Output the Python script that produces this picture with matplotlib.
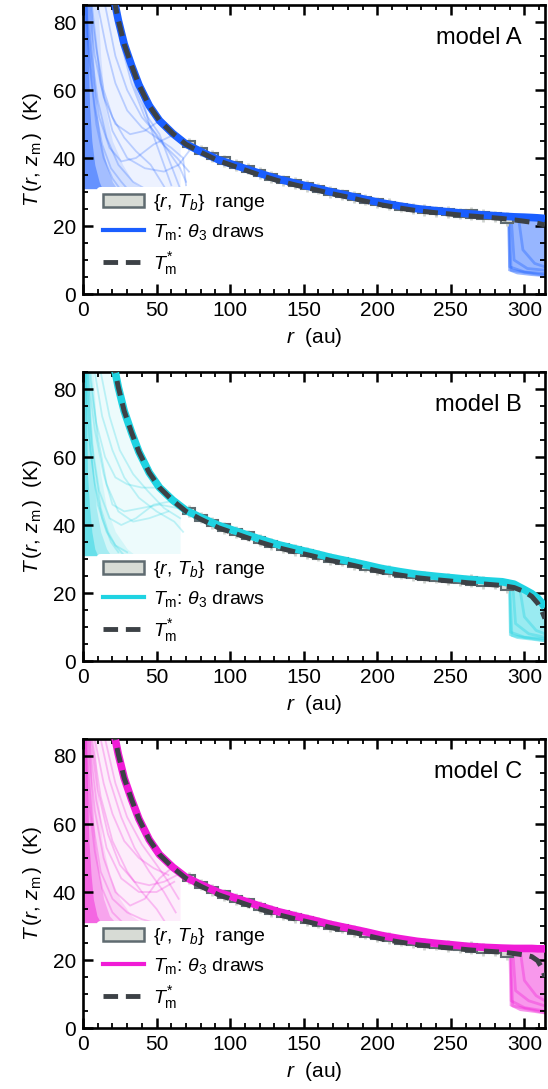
import matplotlib
matplotlib.use("Agg")
import matplotlib.pyplot as plt
from matplotlib.patches import Patch
from matplotlib.lines import Line2D
from matplotlib.ticker import MultipleLocator

plt.rcParams['font.family'] = ['Liberation Sans', 'DejaVu Sans']
plt.rcParams['mathtext.fontset'] = 'custom'
plt.rcParams['mathtext.rm'] = 'Liberation Sans'
plt.rcParams['mathtext.it'] = 'Liberation Sans:italic'
plt.rcParams['mathtext.bf'] = 'Liberation Sans:bold'

# ---------------- data ----------------
models = ["model A", "model B", "model C"]
colors = ["#1a5eff", "#1fd3e2", "#f01bd6"]

r_curve = [20, 24, 28, 33, 38, 45, 52, 61, 70, 80, 92, 108, 120, 132, 145, 156,
           168, 180, 192, 203, 215, 227, 240, 250, 262, 274, 285, 293, 300, 305,
           309, 312, 314]

Tstar_A = [89, 80.5, 73.5, 67.2, 61.5, 55.4, 51.0, 47.2, 44.0, 41.7, 39.2, 36.8,
           35.0, 33.4, 32.0, 30.9, 29.6, 28.5, 27.3, 26.2, 25.3, 24.5, 23.9, 23.5,
           23.0, 22.6, 22.2, 21.8, 21.4, 21.1, 20.8, 20.5, 20.3]
Tstar_B = [89, 80.5, 73.5, 67.2, 61.5, 55.4, 51.0, 47.2, 44.0, 41.7, 39.2, 36.8,
           35.0, 33.4, 32.0, 30.9, 29.6, 28.5, 27.3, 26.2, 25.3, 24.5, 23.9, 23.5,
           23.0, 22.6, 22.2, 21.6, 20.4, 19.0, 17.0, 14.6, 12.5]
Tstar_C = [89, 80.5, 73.5, 67.2, 61.5, 55.4, 51.0, 47.2, 44.0, 41.7, 39.2, 36.8,
           35.0, 33.4, 32.0, 30.9, 29.6, 28.5, 27.3, 26.2, 25.3, 24.5, 23.9, 23.5,
           23.0, 22.6, 22.3, 21.9, 21.5, 21.0, 19.8, 17.6, 15.0]

Tm_A = [89, 80.5, 73.5, 67.2, 61.5, 55.4, 51.0, 47.2, 44.1, 41.9, 39.5, 37.2,
        35.5, 33.9, 32.5, 31.4, 30.1, 29.0, 27.8, 26.8, 25.9, 25.1, 24.5, 24.1,
        23.6, 23.2, 22.9, 22.7, 22.6, 22.5, 22.4, 22.3, 22.2]
Tm_B = [89, 80.5, 73.5, 67.2, 61.5, 55.4, 51.0, 47.3, 44.3, 42.2, 39.9, 37.6,
        35.9, 34.3, 32.9, 31.8, 30.5, 29.4, 28.3, 27.2, 26.3, 25.5, 24.9, 24.5,
        24.0, 23.6, 23.3, 22.6, 21.0, 19.8, 18.5, 17.0, 15.8]
Tm_C = [89, 80.5, 73.5, 67.2, 61.5, 55.4, 51.0, 47.3, 44.3, 42.2, 39.9, 37.6,
        35.9, 34.3, 32.9, 31.8, 30.5, 29.4, 28.3, 27.2, 26.3, 25.5, 24.9, 24.5,
        24.0, 23.7, 23.5, 23.4, 23.4, 23.4, 23.3, 23.3, 23.3]

# {r, T_b} range boxes (same observations in each panel)
rb_center = [72, 80, 88, 96, 104, 112, 120, 128, 136, 144, 152, 160, 168, 176,
             184, 192, 200, 208, 216, 224, 232, 240, 248, 256, 264, 272, 280, 288]
Tb_lo = [43.3, 41.3, 39.7, 38.2, 37.0, 35.9, 34.6, 33.5, 32.6, 31.7, 30.9, 30.1,
         29.2, 28.5, 27.7, 26.9, 26.1, 25.5, 24.8, 24.3, 23.8, 23.5, 23.2, 22.8,
         22.5, 22.2, 22.0, 21.0]
Tb_hi = [45.0, 43.0, 41.5, 40.3, 38.8, 37.8, 36.6, 35.4, 34.4, 33.5, 32.7, 31.9,
         31.0, 30.3, 29.4, 28.6, 27.9, 27.2, 26.5, 26.0, 25.6, 25.2, 25.0, 24.6,
         24.8, 24.0, 23.7, 23.2]
Tb_err = [0.8, 0.7, 0.9, 0.7, 0.9, 0.7, 0.8, 0.9, 0.7, 0.9, 0.8, 0.7, 0.9, 0.7,
          0.9, 0.8, 0.7, 0.9, 0.7, 0.8, 0.9, 0.7, 0.9, 0.7, 0.8, 0.9, 0.7, 0.9]

# inner draws: envelope, density bands near r=0 and individual draws (r, T)
env_r = [0, 20, 24, 28, 33, 38, 45, 52, 61, 66]
env_T = [85, 85, 80.5, 73.5, 67.2, 61.5, 55.4, 51.0, 47.2, 45.5]
fan_floor = 31
band_T = [85, 70, 55, 45, 38, 33, 31]
band_r = {"A": [[3, 3.5, 4.5, 6, 8, 11, 13],
                [6, 7, 9, 12, 16, 20, 23],
                [10, 12, 15, 20, 27, 34, 40]],
          "B": [[2, 2.5, 3, 4.5, 6, 8, 10],
                [4, 5, 7, 9, 12, 16, 19],
                [7, 9, 12, 16, 22, 30, 36]],
          "C": [[2.5, 3, 4, 5.5, 7, 9.5, 12],
                [5, 6, 8, 11, 14, 18, 22],
                [8, 10, 13, 18, 25, 33, 40]]}

fan = {
    "A": [([1, 4, 8, 13, 19, 26, 30], [85, 70, 55, 44, 37, 33, 31]),
          ([3, 6, 10, 16, 24, 34, 42], [85, 70, 57, 46, 38, 33, 31]),
          ([5, 9, 14, 20, 28, 36, 46, 56], [85, 72, 60, 52, 46, 42, 38, 31]),
          ([2, 6, 11, 18, 26, 36, 48, 60], [85, 66, 52, 43, 39, 40, 44, 46.5]),
          ([4, 8, 14, 22, 32, 42, 52], [85, 70, 58, 50, 47, 48, 51]),
          ([10, 16, 22, 30, 40, 50, 60, 68, 70], [85, 72, 62, 54, 49, 46, 43, 40, 32]),
          ([15, 22, 30, 40, 50, 58, 66, 70], [85, 70, 60, 52, 47, 42, 37, 33]),
          ([6, 12, 20, 30, 42, 55, 65, 72], [85, 62, 48, 40, 37, 36, 38, 42]),
          ([40, 45, 50, 55, 60], [58, 50, 44, 38, 32]),
          ([25, 33, 42, 52, 64, 72], [75, 62, 52, 45, 40, 36]),
          ([2, 5, 9, 14, 20, 25], [85, 65, 50, 40, 34, 31]),
          ([30, 36, 44, 52, 58, 66], [70, 60, 52, 47, 40, 31])],
    "B": [([1, 4, 8, 13, 19, 24], [85, 66, 52, 42, 35, 32]),
          ([2, 6, 11, 18, 26, 36, 48, 60], [85, 64, 50, 42, 40, 42, 46, 47]),
          ([3, 8, 14, 20, 28, 40, 52, 64], [85, 68, 55, 46, 44, 45, 46, 45]),
          ([4, 9, 15, 22, 30, 40, 50], [85, 70, 60, 54, 52, 51, 51]),
          ([8, 13, 20, 28, 38, 50, 62, 68], [85, 72, 62, 54, 48, 44, 41, 38]),
          ([2, 5, 10, 16, 22, 30], [85, 62, 46, 38, 34, 32]),
          ([12, 18, 25, 34, 44, 55, 66], [85, 72, 62, 55, 50, 45, 42]),
          ([5, 10, 16, 24, 34, 45, 58], [85, 66, 52, 44, 41, 42, 44]),
          ([3, 7, 12, 17, 22, 28], [85, 60, 45, 38, 34, 31])],
    "C": [([1, 4, 8, 13, 20, 27], [85, 66, 52, 41, 34, 31]),
          ([3, 8, 14, 22, 32, 42, 52, 60], [85, 64, 50, 40, 36, 38, 44, 47]),
          ([5, 10, 17, 25, 35, 45, 55, 64], [85, 70, 57, 48, 43, 42, 43, 45]),
          ([8, 14, 20, 28, 38, 48, 58], [85, 72, 63, 55, 50, 47, 45]),
          ([12, 18, 26, 35, 45, 55, 63], [85, 73, 62, 53, 46, 40, 34]),
          ([2, 6, 12, 20, 30, 40, 48], [85, 62, 46, 38, 34, 32, 31]),
          ([15, 22, 30, 40, 50, 58, 65], [85, 72, 62, 54, 48, 43, 38]),
          ([4, 9, 16, 26, 38, 50, 62], [85, 67, 53, 44, 40, 40, 43]),
          ([6, 12, 20, 30, 40, 50, 56], [85, 68, 55, 46, 40, 35, 31])],
}

# outer draws (r > ~289): polygon outlines and a few individual draws
outer = {
    "A": ([289, 289, 295, 305, 314, 314, 305, 295, 289],
          [22.7, 6.8, 5.8, 5.3, 5.0, 22.2, 22.3, 22.5, 22.7]),
    "B": ([289.5, 289.5, 295, 305, 314, 314, 307, 300, 293, 289.5],
          [23.3, 7.5, 6.5, 6.0, 5.5, 15.8, 18.2, 20.5, 22.5, 23.3]),
    "C": ([290, 290, 297, 306, 314, 314, 305, 297, 290],
          [23.2, 6.5, 5.0, 4.5, 4.0, 23.3, 23.4, 23.3, 23.2]),
}
outer_draws = {
    "A": [([289, 290, 300, 314], [22.7, 8.0, 6.5, 6.0]),
          ([291, 293, 302, 314], [22.6, 10.0, 7.5, 7.0]),
          ([296, 299, 307, 314], [22.4, 13.0, 9.0, 8.0]),
          ([289.5, 291, 314], [22.7, 7.0, 5.5])],
    "B": [([289.5, 290.5, 300, 314], [23.3, 8.5, 7.0, 6.5]),
          ([292, 294, 303, 314], [22.8, 11.0, 8.0, 7.0]),
          ([297, 300, 308, 314], [21.0, 13.0, 9.0, 8.0]),
          ([290, 291.5, 314], [23.2, 7.5, 6.0])],
    "C": [([290, 291, 300, 314], [23.2, 8.0, 6.0, 5.0]),
          ([292, 294, 303, 314], [23.3, 11.0, 8.0, 6.5]),
          ([297, 300, 308, 314], [23.4, 14.0, 9.5, 8.0]),
          ([290.5, 292, 314], [23.2, 6.5, 4.5])],
}

Tstar = {"A": Tstar_A, "B": Tstar_B, "C": Tstar_C}
Tm = {"A": Tm_A, "B": Tm_B, "C": Tm_C}

# ---------------- styles ----------------
dash_color = "#3c4146"
box_face = "#d7dbd5"
box_edge = "#5f6b70"
err_color = "#cfd3cf"

fig = plt.figure(figsize=(5.48, 10.89), dpi=100)
bottoms = [0.7300, 0.3930, 0.0560]
keys = ["A", "B", "C"]

for key, name, col, b in zip(keys, models, colors, bottoms):
    ax = fig.add_axes([0.1515, b, 0.843, 0.2654])

    # inner draws
    ax.fill_between(env_r, fan_floor, env_T, color=col, alpha=0.08, lw=0, zorder=1)
    for rr, a in zip(band_r[key], [0.45, 0.25, 0.12]):
        ax.fill_betweenx(band_T, 0, rr, color=col, alpha=a, lw=0, zorder=1)
    for fr, fT in fan[key]:
        ax.plot(fr, fT, color=col, lw=1.3, alpha=0.25, zorder=1.2)

    # outer draws
    orr, oT = outer[key]
    ax.fill(orr, oT, color=col, alpha=0.45, lw=0, zorder=1)
    for fr, fT in outer_draws[key]:
        ax.plot(fr, fT, color=col, lw=2.0, alpha=0.35, zorder=1.2)

    # {r, T_b} range
    ax.errorbar(rb_center, [(lo + hi) / 2 for lo, hi in zip(Tb_lo, Tb_hi)],
                yerr=[[(hi - lo) / 2 + e for lo, hi, e in zip(Tb_lo, Tb_hi, Tb_err)]] * 2,
                fmt="none", ecolor=err_color, elinewidth=2.0, zorder=1.5)
    ax.bar(rb_center, [hi - lo for lo, hi in zip(Tb_lo, Tb_hi)], bottom=Tb_lo,
           width=8, color=box_face, edgecolor=box_edge, linewidth=1.5, zorder=2)

    # main draws and T*
    ax.plot(r_curve, Tm[key], color=col, lw=5.5, solid_capstyle="butt", zorder=3)
    ax.plot(r_curve, Tstar[key], color=dash_color, lw=3.6, dashes=(3, 1.6), zorder=4)

    ax.set_xlim(0, 314)
    ax.set_ylim(0, 85)
    ax.xaxis.set_major_locator(MultipleLocator(50))
    ax.xaxis.set_minor_locator(MultipleLocator(10))
    ax.yaxis.set_major_locator(MultipleLocator(20))
    ax.yaxis.set_minor_locator(MultipleLocator(5))
    ax.tick_params(which="both", direction="in", top=True, right=True, labelsize=15)
    ax.tick_params(which="major", length=7, width=1.8, pad=5)
    ax.tick_params(which="minor", length=3.8, width=1.3)
    for s in ax.spines.values():
        s.set_linewidth(1.9)

    ax.set_xlabel(r"$r$  (au)", fontsize=15, labelpad=4)
    ax.set_ylabel(r"$T\,(r,\,z_{\rm m}\,)$  (K)", fontsize=15, labelpad=6)
    ax.text(0.95, 0.886, name, transform=ax.transAxes, ha="right", va="center",
            fontsize=17)

    handles = [Patch(facecolor=box_face, edgecolor=box_edge, linewidth=1.8),
               Line2D([], [], color=col, lw=3),
               Line2D([], [], color=dash_color, lw=3.5, dashes=(3, 1.6))]
    labels = [r"$\{r,\,T_b\}$  range", r"$T_{\rm m}$: $\theta_3$ draws",
              r"$T_{\rm m}^{*}$"]
    leg = ax.legend(handles, labels, loc="upper left", bbox_to_anchor=(0.03, 0.372),
                    fontsize=14, frameon=True, framealpha=1, facecolor="white",
                    edgecolor="none", handlelength=2.1, handletextpad=0.5,
                    labelspacing=0.42, borderpad=0.3, borderaxespad=0)
    leg.set_zorder(5)

fig.savefig("out.png", dpi=100)
